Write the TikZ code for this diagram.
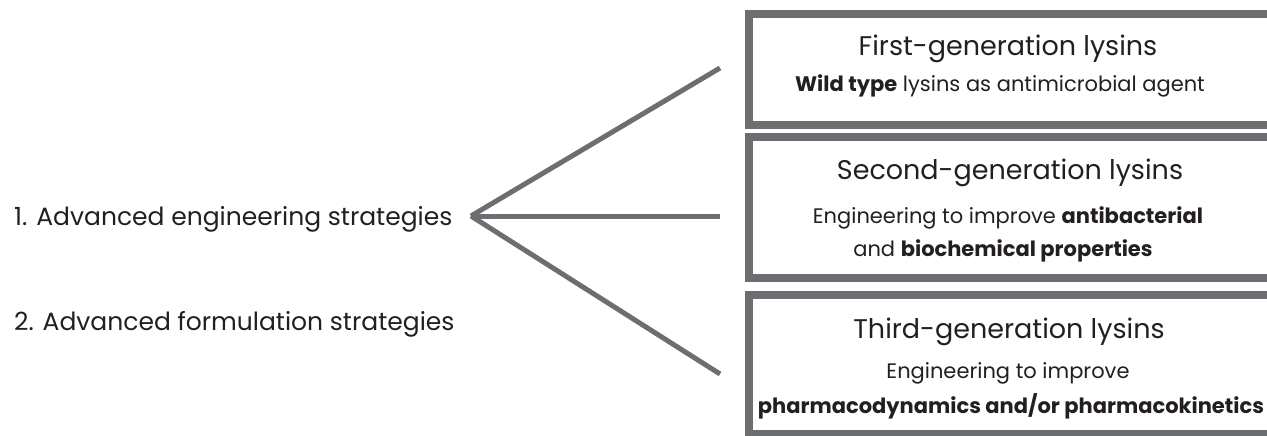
\documentclass[tikz,border=0pt]{standalone}
\usepackage{fontspec}
\setmainfont{Poppins}
\usetikzlibrary{positioning}

\definecolor{framegray}{HTML}{6D6E71}
\definecolor{inkgray}{HTML}{231F20}

\begin{document}
\begin{tikzpicture}[x=1pt,y=-1pt,
    genbox/.style={draw=framegray,line width=8pt},
    branch/.style={draw=framegray,line width=5pt},
    strat/.style={anchor=base west,inner sep=0pt,text=inkgray,font=\fontsize{25}{30}\selectfont},
    gentitle/.style={anchor=base,inner sep=0pt,text=inkgray,font=\fontsize{27}{32}\selectfont},
    genbody/.style={anchor=base,inner sep=0pt,text=inkgray,font=\fontsize{21}{25}\selectfont}]
  \useasboundingbox (0,0) rectangle (1267,436);
  % the three boxes run past the right edge
  \begin{scope}
    \clip (0,0) rectangle (1267,436);
    \draw[genbox] (749,14) rectangle (1290,125);
    \draw[genbox] (749,137) rectangle (1290,278);
    \draw[genbox] (749,295) rectangle (1290,434);
  \end{scope}

  \node[strat] (eng) at (14,225) {1. Advanced engineering strategies};
  \node[strat] (form) at (14,330) {2. Advanced formulation strategies};

  \coordinate (apex) at (471,216);
  \coordinate (first) at (720,68);
  \coordinate (second) at (720,216);
  \coordinate (third) at (720,374);
  \foreach \g in {first,second,third} {
    \draw[branch] (apex) -- (\g);
  }

  \node[gentitle] (t1) at (1008,56) {First-generation lysins};
  \node[genbody] (b1) at (1000,92) {\textbf{Wild type} lysins as antimicrobial agent};

  \node[gentitle] (t2) at (1010,179) {Second-generation lysins};
  \node[genbody] (b2) at (1008,223) {Engineering to improve \textbf{antibacterial}};
  \node[genbody] (c2) at (1003,256) {and \textbf{biochemical properties}};

  \node[gentitle] (t3) at (1009,338) {Third-generation lysins};
  \node[genbody] (b3) at (1008,378) {Engineering to improve};
  \node[genbody] (c3) at (1011,413) {\textbf{pharmacodynamics and/or pharmacokinetics}};
\end{tikzpicture}
\end{document}
